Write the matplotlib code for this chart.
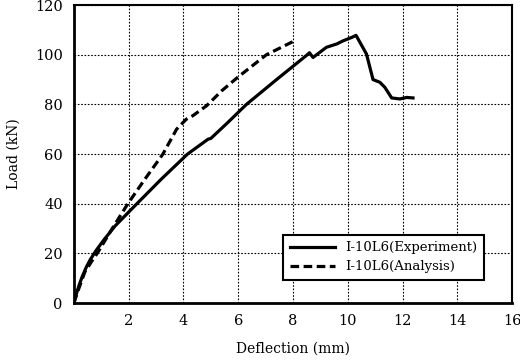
import matplotlib.pyplot as plt

# Curva carga-deflexion
exp_deflexion = [0.0, 0.1, 0.2, 0.3, 0.46, 0.6, 0.8, 1.1, 1.5, 2.3, 3.2,
                 4.15, 4.9, 5.0, 5.6, 6.3, 7.4, 8.5, 8.6, 8.73, 9.22, 9.59,
                 9.83, 10.15, 10.3, 10.68, 10.92, 11.17, 11.35, 11.6, 11.9,
                 12.15, 12.38]
exp_carga = [0.0, 4.0, 7.5, 10.5, 14.6, 17.5, 21.0, 25.5, 31.0, 40.0, 50.0,
             60.0, 66.0, 66.3, 72.5, 80.0, 90.0, 99.8, 100.8, 98.9, 103.0,
             104.3, 105.6, 107.0, 107.8, 100.3, 90.0, 88.9, 86.9, 82.6,
             82.2, 82.8, 82.6]

ana_deflexion = [0.0, 0.16, 0.4, 0.65, 0.88, 1.4, 1.97, 2.6, 3.25, 3.75,
                 4.1, 4.35, 4.85, 5.4, 5.98, 7.03, 8.0]
ana_carga = [0.0, 5.2, 12.5, 16.8, 20.5, 30.0, 40.0, 50.0, 60.0, 70.0,
             74.0, 75.5, 79.5, 85.5, 90.9, 100.0, 105.3]

etiquetas_x = [2, 4, 6, 8, 10, 12, 14, 16]
etiquetas_y = [0, 20, 40, 60, 80, 100, 120]

plt.rcParams["font.family"] = ["DejaVu Serif"]

fig = plt.figure(figsize=(5.2, 3.6), dpi=100)
ax = fig.add_axes([0.142, 0.158, 0.843, 0.828])

ax.plot(exp_deflexion, exp_carga, color="black", linewidth=2.3,
        solid_joinstyle="round", label="I-10L6(Experiment)")
ax.plot(ana_deflexion, ana_carga, color="black", linewidth=2.3,
        linestyle=(0, (2.7, 1.4)), label="I-10L6(Analysis)")

ax.set_xlim(0, 16)
ax.set_ylim(0, 120)
ax.set_xticks(etiquetas_x)
ax.set_yticks(etiquetas_y)
ax.tick_params(length=0, labelsize=10.5, pad=8)
ax.grid(True, color="black", linestyle=(0, (1.5, 1.5)), linewidth=0.8)

for lado in ["left", "bottom"]:
    ax.spines[lado].set_linewidth(2.0)
for lado in ["top", "right"]:
    ax.spines[lado].set_linewidth(1.5)

ax.set_xlabel("Deflection (mm)", fontsize=10, labelpad=10)
ax.set_ylabel("Load (kN)", fontsize=10, labelpad=10)

leyenda = ax.legend(loc="lower right", bbox_to_anchor=(0.936, 0.078),
                    fontsize=9.5, frameon=True, fancybox=False,
                    handlelength=3.4, borderpad=0.5, labelspacing=0.45,
                    borderaxespad=0)
leyenda.get_frame().set_edgecolor("black")
leyenda.get_frame().set_linewidth(1.5)
leyenda.get_frame().set_alpha(1)

fig.savefig("out.png", dpi=100)
